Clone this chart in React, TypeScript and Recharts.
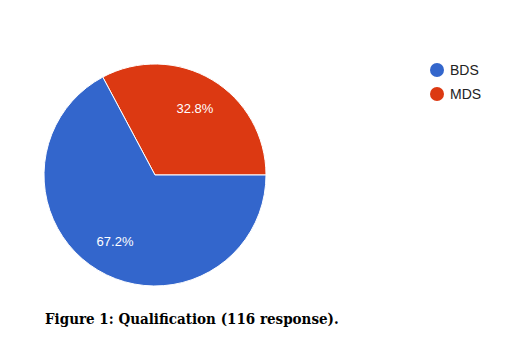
import { Legend, Pie, PieChart, Cell } from "recharts";

const labels = ["MDS", "BDS"];
const values = [32.8, 67.2];
const colors = ["#DC3912", "#3366CC"];
const legendOrder = ["BDS", "MDS"];

const data = labels.map((name, i) => ({ name, value: values[i] }));
const RAD = Math.PI / 180;

function renderLabel(p: any) {
  const r = p.outerRadius * 0.7;
  const x = p.cx + r * Math.cos(-p.midAngle * RAD);
  const y = p.cy + r * Math.sin(-p.midAngle * RAD);
  return (
    <text
      x={x}
      y={y}
      fill="#fff"
      textAnchor="middle"
      dominantBaseline="central"
      fontFamily="Liberation Sans, Arial, sans-serif"
      fontSize={13}
    >
      {p.value.toFixed(1)}%
    </text>
  );
}

function LegendBox() {
  return (
    <div style={{ fontFamily: "Liberation Sans, Arial, sans-serif", fontSize: 14, color: "#222" }}>
      {legendOrder.map((name) => (
        <div key={name} style={{ display: "flex", alignItems: "center", height: 24 }}>
          <svg width={14} height={14} style={{ marginRight: 6 }}>
            <circle cx={7} cy={7} r={7} fill={colors[labels.indexOf(name)]} />
          </svg>
          <span>{name}</span>
        </div>
      ))}
    </div>
  );
}

export default function App() {
  return (
    <div style={{ position: "absolute", left: 0, top: 0, width: 519, height: 337, background: "#fff" }}>
      <PieChart width={519} height={337} margin={{ top: 0, right: 0, bottom: 0, left: 0 }}>
        <Pie
          data={data}
          dataKey="value"
          cx={155}
          cy={175}
          outerRadius={111}
          startAngle={0}
          endAngle={360}
          stroke="#fff"
          strokeWidth={1}
          labelLine={false}
          label={renderLabel}
          isAnimationActive={false}
        >
          {data.map((d, i) => (
            <Cell key={d.name} fill={colors[i]} />
          ))}
        </Pie>
        <Legend
          content={<LegendBox />}
          wrapperStyle={{ position: "absolute", left: 430, top: 58, width: 80 }}
        />
      </PieChart>
      <div
        style={{
          position: "absolute",
          left: 45,
          top: 310,
          fontFamily: "DejaVu Serif Condensed, DejaVu Serif, serif",
          fontStretch: "condensed",
          fontWeight: "bold",
          fontSize: 15,
          color: "#000",
          whiteSpace: "nowrap",
        }}
      >
        Figure 1: Qualification (116 response).
      </div>
    </div>
  );
}
